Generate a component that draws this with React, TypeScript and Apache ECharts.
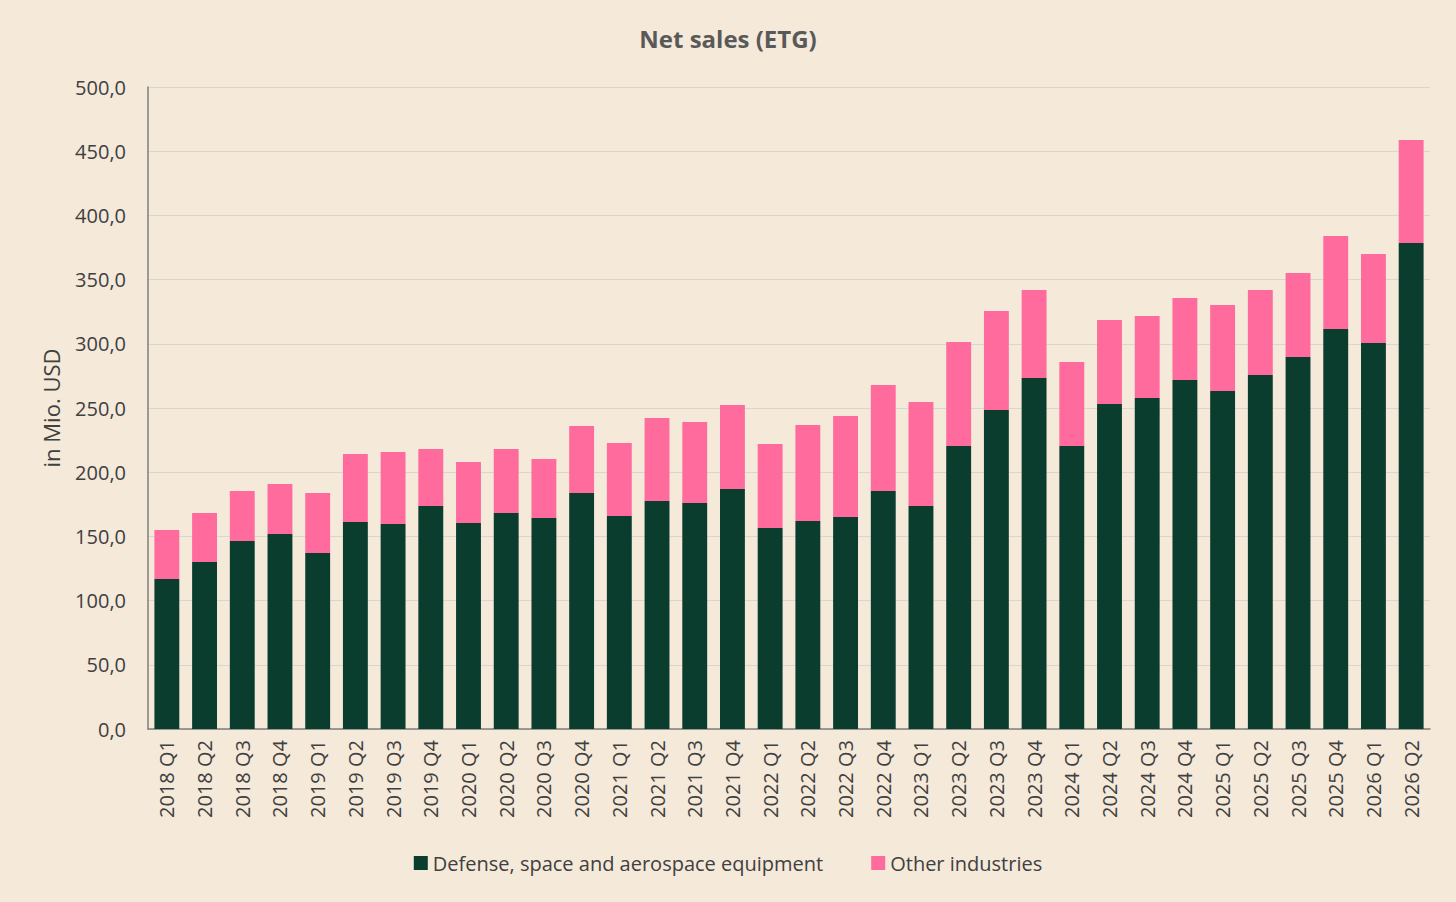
import React, { useEffect, useRef } from 'react';
import * as echarts from 'echarts';
import type { EChartsOption } from 'echarts';

const quarters = [
  '2018 Q1', '2018 Q2', '2018 Q3', '2018 Q4',
  '2019 Q1', '2019 Q2', '2019 Q3', '2019 Q4',
  '2020 Q1', '2020 Q2', '2020 Q3', '2020 Q4',
  '2021 Q1', '2021 Q2', '2021 Q3', '2021 Q4',
  '2022 Q1', '2022 Q2', '2022 Q3', '2022 Q4',
  '2023 Q1', '2023 Q2', '2023 Q3', '2023 Q4',
  '2024 Q1', '2024 Q2', '2024 Q3', '2024 Q4',
  '2025 Q1', '2025 Q2', '2025 Q3', '2025 Q4',
  '2026 Q1', '2026 Q2',
];

// Defense, space and aerospace equipment
const defense = [
  116.8, 130.1, 146.4, 151.9,
  137.1, 161.2, 159.7, 173.7,
  160.4, 168.2, 164.3, 183.8,
  165.9, 177.6, 176.0, 186.9,
  156.5, 162.0, 165.1, 185.4,
  173.7, 220.4, 248.4, 273.4,
  220.4, 253.1, 257.8, 271.8,
  263.2, 275.7, 289.7, 311.5,
  300.6, 378.5,
];

// Net sales total per quarter
const totals = [
  155.0, 168.2, 185.4, 190.8,
  183.8, 214.2, 215.7, 218.1,
  208.0, 218.1, 210.3, 236.0,
  222.7, 242.2, 239.1, 252.3,
  222.0, 236.8, 243.8, 267.9,
  254.7, 301.4, 325.5, 341.9,
  285.8, 318.5, 321.7, 335.7,
  330.2, 341.9, 355.1, 384.0,
  369.9, 458.7,
];

const other = totals.map((t, i) => Math.round((t - defense[i]) * 10) / 10);

const FONT = '"Open Sans", "Noto Sans", sans-serif';

function NetSalesChart() {
  const chartRef = useRef<HTMLDivElement>(null);

  useEffect(() => {
    if (!chartRef.current) return;
    const chart = echarts.init(chartRef.current, undefined, { renderer: 'svg' });

    const option: EChartsOption = {
      animation: false,
      backgroundColor: '#f5e9da',
      textStyle: { fontFamily: FONT },
      title: {
        text: 'Net sales (ETG)',
        left: 'center',
        top: 21,
        textStyle: { fontSize: 24, fontWeight: 'bold', color: '#595959', fontFamily: FONT },
      },
      legend: {
        bottom: 24,
        left: 'center',
        itemWidth: 14,
        itemHeight: 14,
        itemGap: 48,
        icon: 'rect',
        textStyle: { fontSize: 20, color: '#404040', fontFamily: FONT },
        data: ['Defense, space and aerospace equipment', 'Other industries'],
      },
      grid: {
        left: 148,
        right: 26,
        top: 87,
        bottom: 173,
      },
      xAxis: {
        type: 'category',
        data: quarters,
        axisLine: { lineStyle: { color: '#7f7f7f', width: 1.5 } },
        axisTick: { show: false },
        axisLabel: {
          rotate: 90,
          interval: 0,
          fontSize: 20,
          color: '#404040',
          margin: 11,
          fontFamily: FONT,
        },
      },
      yAxis: {
        type: 'value',
        min: 0,
        max: 500,
        interval: 50,
        name: 'in Mio. USD',
        nameLocation: 'middle',
        nameGap: 86,
        nameTextStyle: { fontSize: 22, color: '#404040', fontFamily: FONT },
        axisLine: { show: true, lineStyle: { color: '#7f7f7f', width: 1.5 } },
        axisTick: { show: false },
        splitLine: { lineStyle: { color: '#d9d6d2', width: 1.2 } },
        axisLabel: {
          fontSize: 20,
          color: '#404040',
          margin: 22,
          fontFamily: FONT,
          formatter: (value: number) => value.toFixed(1).replace('.', ','),
        },
      },
      series: [
        {
          name: 'Defense, space and aerospace equipment',
          type: 'bar',
          stack: 'sales',
          barWidth: '66%',
          data: defense,
          itemStyle: { color: '#0b3d2e' },
        },
        {
          name: 'Other industries',
          type: 'bar',
          stack: 'sales',
          barWidth: '66%',
          data: other,
          itemStyle: { color: '#ff6b9c' },
        },
      ],
    };

    chart.setOption(option);

    return () => {
      chart.dispose();
    };
  }, []);

  return (
    <div
      ref={chartRef}
      style={{ position: 'fixed', left: 0, top: 0, width: '1456px', height: '902px' }}
    />
  );
}

export default function App() {
  return <NetSalesChart />;
}
